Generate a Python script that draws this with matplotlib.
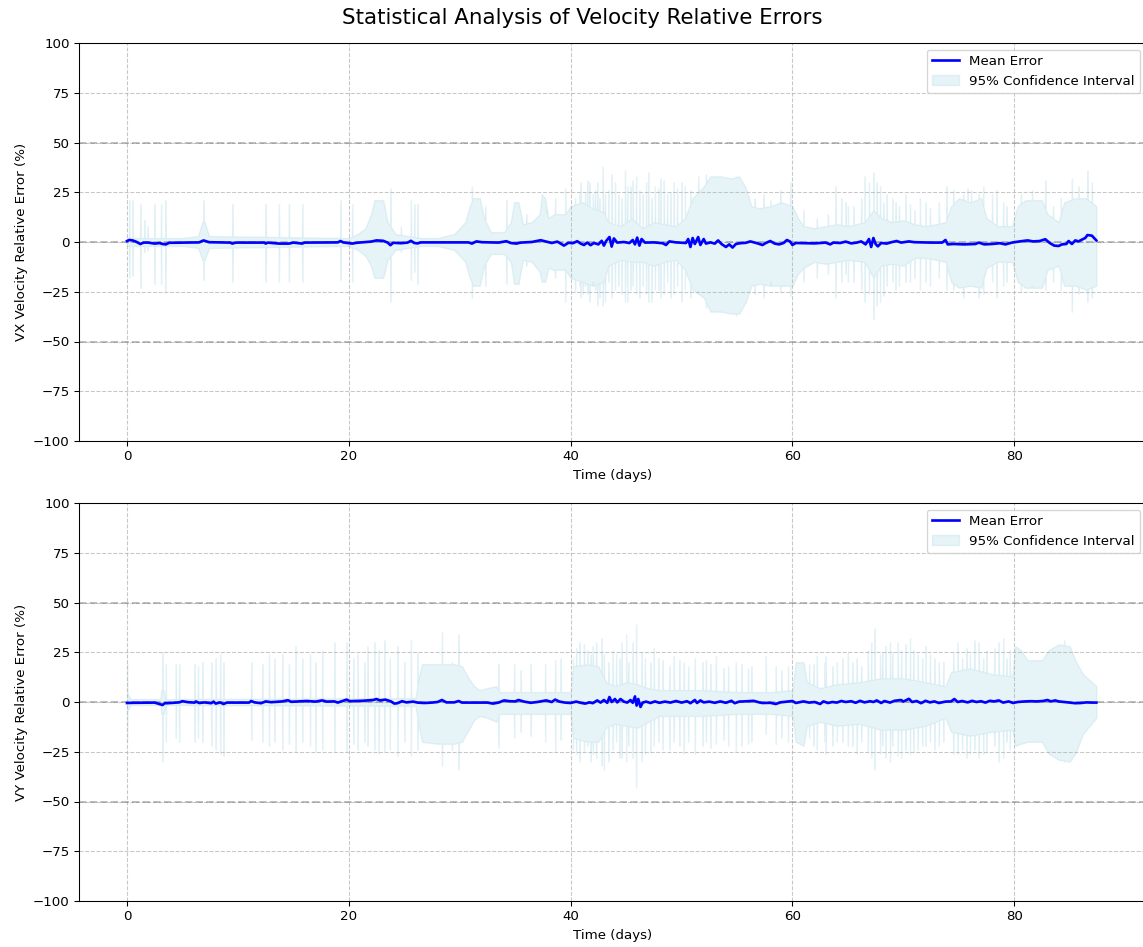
import numpy as np
import matplotlib
matplotlib.use("Agg")
import matplotlib.pyplot as plt

# ---------------- VX panel data ----------------
vx_env_t = [0.0, 5.0, 6.4, 6.8, 7.0, 7.4, 20.0, 20.8, 21.5, 22.0, 22.3, 23.1, 23.5, 24.2, 26.5, 28.0,
            29.5, 30.5, 30.9, 31.2, 31.8, 32.2, 32.8, 34.0, 34.6, 34.9, 35.3, 35.7, 36.5, 37.2, 37.4,
            37.7, 38.0, 38.5, 39.5, 40.0, 41.0, 42.0, 43.0, 43.4, 44.5, 45.5, 46.5, 47.5, 48.5, 49.5,
            50.3, 51.0, 52.0, 52.6, 53.5, 54.5, 55.2, 55.8, 56.3, 57.0, 58.0, 59.0, 60.0, 60.5, 61.0,
            62.0, 63.0, 64.0, 65.0, 66.5, 67.3, 68.0, 69.0, 70.0, 71.0, 72.0, 73.0, 73.8, 74.3, 75.0,
            76.0, 77.0, 77.5, 78.5, 79.8, 80.3, 81.0, 82.5, 83.0, 84.0, 84.5, 85.5, 86.5, 87.4]
vx_env_up = [2, 2, 3, 10, 10, 3, 2, 4, 7, 14, 21, 21, 10, 4, 2, 2,
             4, 10, 18, 22, 22, 12, 5, 5, 10, 20, 20, 9, 10, 14, 24,
             22, 12, 14, 14, 18, 20, 17, 15, 10, 8, 12, 7, 10, 9, 8,
             12, 22, 28, 33, 33, 32, 33, 27, 18, 17, 18, 20, 18, 12, 8,
             7, 8, 9, 8, 10, 16, 12, 10, 11, 9, 8, 9, 10, 18, 22,
             20, 22, 12, 8, 8, 18, 21, 21, 14, 10, 20, 22, 22, 18]
vx_env_lo = [-2, -2, -3, -9, -9, -3, -2, -4, -7, -12, -18, -18, -9, -4, -2, -2,
             -4, -10, -18, -22, -22, -12, -6, -6, -10, -21, -21, -9, -10, -15, -20,
             -20, -13, -14, -14, -18, -20, -22, -20, -12, -9, -10, -10, -12, -10, -9,
             -14, -24, -28, -35, -35, -36, -36, -30, -22, -21, -22, -22, -22, -16, -13,
             -10, -11, -10, -9, -10, -18, -12, -11, -12, -8, -8, -9, -10, -20, -23,
             -22, -23, -13, -10, -10, -20, -23, -23, -14, -12, -22, -22, -24, -22]
vx_spk_t = [0.2, 0.5, 1.2, 1.56, 1.86, 2.47, 3.07, 3.46, 6.9, 9.5, 12.5, 13.7, 14.6, 15.8, 19.25,
            20.3, 23.75, 24.7, 25.6, 25.9, 26.2, 31.1, 32.3, 34.2, 36.0, 37.8, 38.6, 39.5, 40.4,
            40.8, 40.9, 41.1, 41.3, 41.5, 41.7, 42.0, 42.2, 42.4, 42.6, 42.9, 43.1, 43.4, 43.7,
            44.0, 44.3, 44.6, 44.9, 45.1, 45.4, 45.6, 45.9, 46.2, 46.5, 46.8, 47.0, 47.3, 47.6,
            47.9, 48.1, 48.4, 48.7, 49.0, 49.3, 49.6, 50.0, 50.3, 50.8, 51.5, 52.2, 54.9, 56.6,
            57.4, 58.0, 58.9, 59.8, 61.0, 62.2, 63.2, 63.9, 64.4, 64.8, 65.0, 65.5, 66.2, 66.5,
            66.9, 67.3, 67.6, 67.9, 68.2, 68.5, 69.0, 69.3, 69.6, 70.2, 70.6, 71.0, 71.5, 72.0,
            72.4, 73.2, 73.9, 74.5, 75.4, 75.8, 76.1, 76.8, 77.2, 78.0, 78.4, 79.0, 79.3, 80.6,
            81.6, 82.8, 83.5, 84.2, 85.2, 85.8, 86.6, 87.0]
vx_spk_up = [21, 21, 19, 11, 8, 19, 19, 21, 21, 19, 19, 19, 19, 19, 21,
             19, 27, 8, 21, 19, 19, 28, 18, 21, 14, 15, 22, 27, 22,
             24, 30, 20, 25, 31, 30, 24, 26, 30, 22, 38, 24, 26, 34,
             30, 24, 22, 36, 28, 28, 31, 33, 26, 24, 30, 35, 22, 28,
             27, 32, 31, 24, 25, 30, 27, 30, 28, 26, 33, 34, 33, 22,
             24, 21, 26, 30, 16, 12, 14, 28, 22, 20, 18, 18, 22, 33,
             30, 35, 30, 28, 20, 24, 22, 20, 18, 24, 19, 16, 22, 20,
             17, 20, 28, 26, 24, 27, 26, 24, 28, 24, 26, 20, 18, 24,
             26, 31, 18, 22, 32, 28, 36, 30]
vx_spk_lo = [-18, -17, -23, -5, -4, -21, -21, -25, -19, -20, -20, -20, -20, -20, -19,
             -20, -30, -5, -19, -15, -21, -28, -22, -21, -12, -18, -18, -30, -25,
             -22, -28, -26, -22, -26, -30, -20, -24, -32, -28, -32, -30, -20, -28,
             -24, -22, -26, -30, -30, -24, -22, -26, -28, -22, -26, -30, -30, -24,
             -24, -28, -26, -20, -28, -26, -22, -30, -24, -28, -25, -33, -37, -26,
             -28, -20, -25, -27, -20, -18, -16, -28, -20, -16, -20, -20, -24, -30,
             -26, -39, -32, -30, -27, -22, -20, -24, -22, -20, -20, -18, -24, -20,
             -22, -18, -24, -24, -28, -22, -22, -28, -26, -20, -28, -22, -20, -25,
             -22, -24, -20, -24, -35, -26, -30, -28]
vx_mean_t = [0.0, 0.2, 0.5, 0.8, 1.2, 1.5, 1.9, 2.5, 3.0, 3.1, 3.5, 3.8, 5.0, 6.5, 6.9, 7.4, 9.3, 9.5,
             9.8, 12.4, 12.5, 12.7, 13.7, 14.6, 15.0, 15.8, 16.0, 19.0, 19.25, 19.5, 20.3, 20.7, 22.0,
             22.5, 23.1, 23.5, 23.75, 24.0, 24.7, 25.3, 25.6, 25.9, 26.2, 26.5, 28.0, 30.8, 31.1, 31.5,
             32.0, 33.5, 34.2, 34.6, 35.1, 35.5, 36.5, 37.3, 37.8, 38.3, 38.8, 39.4, 39.8, 40.2, 40.6,
             40.9, 41.2, 41.5, 41.8, 42.1, 42.5, 42.8, 43.0, 43.2, 43.5, 43.7, 43.9, 44.2, 44.8, 45.3,
             45.6, 45.8, 46.0, 46.2, 46.4, 46.7, 47.5, 48.3, 48.6, 48.9, 49.5, 50.4, 50.6, 50.8, 51.0,
             51.2, 51.5, 51.7, 52.0, 52.2, 52.6, 53.0, 53.3, 53.6, 54.0, 54.3, 54.6, 54.9, 55.3, 55.8,
             56.2, 56.8, 57.3, 57.6, 58.0, 58.4, 58.8, 59.2, 59.5, 59.8, 60.0, 60.3, 61.0, 62.0, 62.5,
             63.0, 63.4, 63.7, 64.3, 64.8, 65.3, 65.8, 66.2, 66.6, 66.9, 67.1, 67.3, 67.5, 67.7, 68.0,
             68.5, 69.0, 69.4, 69.8, 70.5, 71.0, 71.8, 72.5, 73.5, 73.8, 74.0, 74.5, 75.5, 76.5, 76.8,
             77.3, 78.0, 78.7, 79.2, 79.8, 80.5, 81.2, 81.7, 82.3, 82.8, 83.2, 83.6, 84.0, 84.3, 84.7,
             84.9, 85.2, 85.5, 85.8, 86.1, 86.4, 86.6, 87.0, 87.2, 87.4]
vx_mean = [0.5, 1.0, 0.8, 0.2, -1.0, -0.3, -0.3, -0.8, -0.5, -0.9, -1.2, -0.4, -0.3, -0.2, 0.8, -0.1, -0.3, -0.8,
           -0.3, -0.3, -0.8, -0.3, -0.8, -0.8, -0.3, -0.8, -0.3, -0.2, 0.5, -0.2, -0.8, -0.4, 0.2,
           0.8, 0.6, -0.3, -1.6, -0.4, -0.6, -0.3, 0.6, -0.5, -0.7, -0.2, -0.2, -0.2, -0.8, 0.3,
           -0.1, -0.3, 0.4, -0.5, -0.8, -0.3, 0.0, 0.9, 0.2, -0.5, 0.2, -1.8, -0.4, -0.6, 0.4,
           -0.8, -1.5, -0.3, -1.6, -0.5, -1.2, 0.6, -1.8, 0.5, 2.5, -2.3, 1.8, -0.3, 0.0, -0.5,
           1.0, -1.2, 2.2, -1.8, 1.5, -0.3, -0.2, -0.6, -1.5, 0.3, -0.2, -0.5, 1.5, -2.5, 2.0,
           -1.0, 2.5, -1.5, 1.5, -0.8, -0.2, -0.8, 0.8, -1.0, -2.5, -1.2, -2.8, -1.0, -0.6, -0.4,
           0.3, -0.6, -1.5, -0.5, 0.5, -0.8, -1.2, -0.5, 1.0, 0.2, -1.5, -0.5, -0.6, -0.7, -0.5,
           -0.3, -1.2, -0.3, -0.5, 0.2, -0.7, -0.3, 0.3, -1.2, 1.5, -2.5, 2.0, -1.0, -2.2, -0.5,
           -0.8, 0.0, 0.5, -0.3, 0.3, -0.1, -0.2, -0.3, -0.3, 1.0, -1.2, -1.0, -1.2, -1.0, -0.3,
           -1.2, -1.0, -0.6, -1.2, -0.3, 0.3, 0.8, 0.3, 0.5, 1.4, -0.5, -1.8, -2.0, -1.2, -1.0,
           0.5, -1.0, 0.8, 0.3, 1.2, 2.0, 3.5, 3.2, 2.0, 0.8]

# ---------------- VY panel data ----------------
vy_env_t = [0.0, 0.3, 3.0, 3.1, 3.3, 3.5, 26.0, 26.3, 26.6, 28.0, 29.5, 30.2, 30.8, 31.3, 31.8, 32.5,
            33.3, 33.6, 40.0, 40.2, 41.5, 42.5, 43.2, 44.0, 45.0, 46.0, 47.0, 48.0, 52.0, 55.0, 58.0,
            60.0, 60.3, 61.0, 61.3, 62.5, 64.0, 66.0, 68.0, 70.0, 72.0, 73.8, 74.3, 76.0, 78.0, 79.8,
            80.1, 80.6, 81.2, 82.5, 83.1, 84.0, 85.0, 85.5, 86.2, 87.4]
vy_env_up = [5, 1.5, 1.5, 6, 6, 1.5, 2, 12, 19, 19, 19, 18, 12, 8, 6, 7,
             8, 5, 5, 18, 19, 18, 10, 8, 10, 9, 7, 6, 6, 5, 5,
             6, 20, 20, 10, 7, 9, 10, 12, 12, 10, 8, 15, 17, 14, 13,
             28, 26, 21, 21, 26, 29, 28, 21, 14, 8]
vy_env_lo = [-5, -1.5, -1.5, -6, -6, -1.5, -2, -12, -20, -21, -21, -20, -14, -9, -7, -8,
             -10, -6, -6, -18, -20, -20, -13, -11, -12, -13, -10, -7, -7, -6, -6,
             -7, -20, -22, -12, -10, -12, -11, -14, -14, -12, -8, -15, -17, -15, -14,
             -22, -21, -20, -20, -26, -29, -30, -26, -16, -8]
vy_spk_t = [0.0, 3.2, 3.5, 4.4, 4.7, 6.1, 6.4, 6.8, 7.6, 8.0, 8.4, 8.7, 11.2, 12.2, 12.8, 13.3,
            14.0, 14.6, 15.2, 15.8, 16.5, 17.0, 17.6, 18.7, 19.8, 20.4, 20.8, 21.4, 21.7, 22.3,
            22.7, 23.2, 23.7, 24.4, 25.0, 25.6, 26.2, 28.4, 29.3, 29.9, 33.5, 34.9, 35.5, 36.4,
            37.7, 38.6, 39.1, 40.2, 40.5, 40.8, 41.2, 41.5, 41.8, 42.0, 42.3, 42.8, 43.0, 43.4,
            43.8, 44.1, 44.4, 44.6, 45.0, 45.2, 45.6, 45.9, 46.4, 46.7, 47.2, 47.5, 47.9, 48.3,
            48.9, 49.3, 49.8, 50.2, 50.6, 51.2, 51.9, 52.2, 52.6, 53.1, 53.8, 54.2, 54.9, 55.4,
            56.0, 56.3, 57.6, 58.5, 59.0, 59.6, 61.5, 61.9, 62.2, 62.9, 63.0, 63.6, 64.0, 64.5,
            65.0, 65.4, 65.8, 66.2, 66.8, 67.1, 67.4, 67.9, 68.1, 68.4, 68.8, 69.0, 69.5, 69.8,
            70.2, 70.6, 70.9, 71.3, 71.7, 72.0, 72.4, 72.8, 73.2, 73.6, 74.5, 74.9, 75.3, 75.7,
            76.0, 76.4, 76.8, 77.2, 77.5, 78.2, 78.6, 79.0, 79.3, 79.6, 84.5]
vy_spk_up = [19, 25, 19, 19, 19, 19, 18, 20, 20, 22, 24, 20, 20, 19, 24, 22,
             24, 19, 28, 22, 24, 20, 26, 30, 30, 22, 24, 20, 28, 30,
             26, 31, 22, 28, 20, 31, 25, 35, 20, 34, 19, 19, 16, 19,
             19, 21, 22, 22, 27, 30, 29, 26, 24, 28, 30, 32, 24, 20,
             26, 24, 22, 30, 34, 20, 30, 39, 25, 22, 20, 27, 22, 21,
             18, 23, 21, 20, 18, 22, 20, 21, 19, 23, 17, 18, 20, 19,
             17, 18, 23, 18, 16, 18, 19, 19, 23, 20, 23, 18, 20, 22,
             25, 20, 22, 18, 26, 30, 37, 24, 25, 28, 30, 25, 30, 26,
             29, 32, 26, 24, 22, 28, 24, 22, 20, 20, 25, 30, 22, 27,
             24, 31, 30, 22, 26, 27, 30, 32, 22, 26, 31]
vy_spk_lo = [-20, -30, -20, -18, -20, -20, -18, -20, -22, -24, -26, -27, -19, -20, -22, -20,
             -24, -21, -25, -20, -22, -25, -24, -25, -25, -21, -24, -20, -22, -24,
             -26, -25, -24, -27, -20, -27, -24, -32, -24, -34, -23, -18, -15, -17,
             -20, -25, -19, -24, -26, -30, -25, -22, -30, -26, -28, -32, -34, -30,
             -24, -20, -28, -28, -30, -22, -28, -43, -30, -26, -25, -22, -20, -24,
             -24, -20, -22, -26, -20, -26, -22, -20, -23, -21, -19, -22, -25, -22,
             -21, -20, -16, -21, -18, -20, -18, -22, -24, -20, -26, -22, -20, -20,
             -22, -22, -26, -20, -25, -28, -34, -26, -22, -28, -30, -22, -27, -28,
             -24, -26, -25, -24, -22, -22, -20, -24, -22, -20, -26, -26, -24, -28,
             -26, -24, -28, -26, -25, -22, -30, -28, -20, -24, -30]
vy_mean_t = [0.0, 0.5, 2.5, 3.2, 3.4, 3.6, 4.4, 4.7, 5.0, 5.5, 6.1, 6.2, 6.5, 7.0, 7.6, 7.8, 8.0, 8.4,
             8.7, 9.0, 11.0, 11.2, 11.5, 12.1, 12.5, 13.0, 14.0, 14.5, 14.8, 15.5, 16.2, 17.0, 17.6,
             18.0, 18.7, 19.0, 19.8, 20.1, 20.5, 21.2, 21.7, 22.2, 22.5, 22.8, 23.3, 23.8, 24.1, 24.4,
             24.8, 25.2, 25.8, 26.2, 26.8, 27.5, 28.0, 28.4, 28.8, 29.5, 29.9, 30.2, 31.0, 32.5, 33.0,
             33.5, 34.0, 34.5, 35.0, 35.3, 35.8, 36.4, 37.0, 37.8, 38.3, 38.6, 39.0, 39.5, 40.0, 40.5,
             40.9, 41.3, 41.7, 42.0, 42.4, 42.7, 43.0, 43.3, 43.5, 43.7, 44.0, 44.2, 44.5, 44.8, 45.1,
             45.4, 45.6, 45.8, 45.95, 46.1, 46.3, 46.5, 46.8, 47.2, 47.6, 48.0, 48.5, 49.0, 49.5, 50.0,
             50.5, 50.8, 51.2, 51.4, 51.7, 52.0, 52.5, 53.0, 53.5, 54.0, 54.5, 54.8, 55.2, 56.0, 56.5,
             57.0, 57.3, 58.0, 58.5, 58.9, 59.5, 60.0, 60.3, 61.0, 61.5, 62.0, 62.5, 62.8, 63.2, 63.6,
             64.0, 64.4, 64.8, 65.3, 65.7, 66.1, 66.5, 67.0, 67.3, 67.6, 68.0, 68.3, 68.8, 69.2, 69.8,
             70.0, 70.5, 70.8, 71.2, 71.6, 72.0, 72.4, 72.8, 73.2, 73.8, 74.3, 74.6, 74.9, 75.3, 75.8,
             76.2, 76.6, 77.0, 77.4, 77.8, 78.2, 78.6, 79.0, 79.5, 79.9, 80.3, 81.0, 81.5, 82.0, 82.6,
             83.0, 83.3, 83.7, 84.0, 84.5, 85.0, 85.5, 86.0, 86.5, 87.0, 87.4]
vy_mean = [-0.5, -0.4, -0.3, -1.5, -0.6, -0.6, -0.3, -0.2, 0.4, -0.1, -0.3, 0.3, -0.5, -0.2, -0.6, 0.2, -0.8, -0.2,
           -1.0, -0.3, -0.3, 0.5, -0.2, -0.6, 0.3, -0.1, 0.3, 0.9, 0.1, 0.3, 0.5, 0.2, 0.8,
           0.2, 0.3, -0.3, 1.2, 0.4, 0.5, 0.6, 0.8, 1.0, 1.5, 0.8, 1.2, 0.3, -0.8, -0.6,
           0.4, -0.2, 0.2, -0.3, -0.5, -0.3, 0.0, 1.0, -0.2, -0.2, 0.5, -0.3, -0.3, -0.3, -0.8,
           -0.3, 0.8, 0.4, 0.3, 1.0, 0.2, -0.4, 0.0, 0.8, 0.0, 1.2, 0.2, -0.3, -0.5, 0.2,
           -0.4, -0.8, -0.2, -0.6, 0.8, -0.3, 1.0, -0.4, 2.5, 0.0, 1.5, -0.2, 1.5, 0.2, -0.3,
           1.0, -0.4, 2.8, -1.8, 1.5, -2.5, -0.3, 0.2, -0.5, 0.3, -0.4, 0.2, -0.3, 0.5, -0.3,
           0.4, -0.6, 1.0, -0.5, 0.8, -0.2, 0.2, -0.4, 0.3, -0.4, 0.6, -0.6, 0.2, 0.4, 0.6,
           -0.2, -0.5, -0.4, -1.0, -0.2, 0.2, 0.5, -0.5, 0.3, -0.3, 0.0, -1.0, 0.3, -0.5, 0.0,
           -0.3, 0.5, 0.0, 0.4, -0.4, 0.6, -0.2, 0.4, 0.0, 0.8, -0.5, 0.5, -0.3, 0.6, 1.0,
           0.2, 1.6, 0.0, 0.5, -0.6, 0.6, -0.2, 0.3, -0.5, 0.2, 0.3, 1.5, 0.0, 0.5, -0.2,
           0.6, 0.0, 0.4, -0.3, 0.6, 0.3, 0.8, -0.3, 0.3, -0.5, 0.0, 0.3, 0.4, 0.3, 0.5,
           1.0, 0.3, 0.8, 0.3, 0.0, -0.3, -0.6, -0.5, -0.2, -0.3, -0.3]

title = "Statistical Analysis of Velocity Relative Errors"
ylabels = ["VX Velocity Relative Error (%)", "VY Velocity Relative Error (%)"]
xlabel = "Time (days)"
yticks = [-100, -75, -50, -25, 0, 25, 50, 75, 100]
xticks = [0, 20, 40, 60, 80]


def build_ci(env_t, env_up, env_lo, spk_t, spk_up, spk_lo, half=0.03):
    env_t = np.asarray(env_t, float)
    env_up = np.asarray(env_up, float)
    env_lo = np.asarray(env_lo, float)
    t_all = list(env_t)
    up_all = list(env_up)
    lo_all = list(env_lo)
    for t, u, l in zip(spk_t, spk_up, spk_lo):
        for dt in (-half, half):
            tt = min(max(t + dt, env_t[0]), env_t[-1])
            t_all.append(tt)
            up_all.append(np.interp(tt, env_t, env_up))
            lo_all.append(np.interp(tt, env_t, env_lo))
        t_all.append(t)
        up_all.append(u)
        lo_all.append(l)
    order = np.argsort(t_all, kind="stable")
    return (np.asarray(t_all)[order], np.asarray(up_all)[order], np.asarray(lo_all)[order])


DPI = 96
W, H = 1143, 947
fig = plt.figure(figsize=(W / DPI, H / DPI), dpi=DPI)
ax1 = fig.add_axes([79 / W, 1 - 441 / H, (1147 - 79) / W, (441 - 43) / H])
ax2 = fig.add_axes([79 / W, 1 - 901 / H, (1147 - 79) / W, (901 - 503) / H])

panels = [
    (ax1, vx_env_t, vx_env_up, vx_env_lo, vx_spk_t, vx_spk_up, vx_spk_lo, vx_mean_t, vx_mean, ylabels[0]),
    (ax2, vy_env_t, vy_env_up, vy_env_lo, vy_spk_t, vy_spk_up, vy_spk_lo, vy_mean_t, vy_mean, ylabels[1]),
]

for ax, et, eu, el, st, su, sl, mt, mv, yl in panels:
    t, up, lo = build_ci(et, eu, el, st, su, sl)
    ax.plot(mt, mv, color="blue", linewidth=2, label="Mean Error", zorder=3)
    ax.fill_between(t, lo, up, color="lightblue", alpha=0.3, label="95% Confidence Interval")
    ax.axhline(0, color="gray", linestyle="--", alpha=0.5)
    ax.axhline(50, color="gray", linestyle="--", alpha=0.5)
    ax.axhline(-50, color="gray", linestyle="--", alpha=0.5)
    ax.set_ylim(-100, 100)
    ax.set_yticks(yticks)
    ax.set_xticks(xticks)
    ax.set_xlim(-4.33, 91.97)
    ax.grid(True, linestyle="--", alpha=0.7)
    ax.set_xlabel(xlabel)
    ax.set_ylabel(yl)
    ax.spines["right"].set_visible(False)
    ax.legend(loc="upper right")

fig.text(582 / W, 1 - 18 / H, title, fontsize=16, ha="center", va="center")
fig.savefig("out.png", dpi=DPI)
